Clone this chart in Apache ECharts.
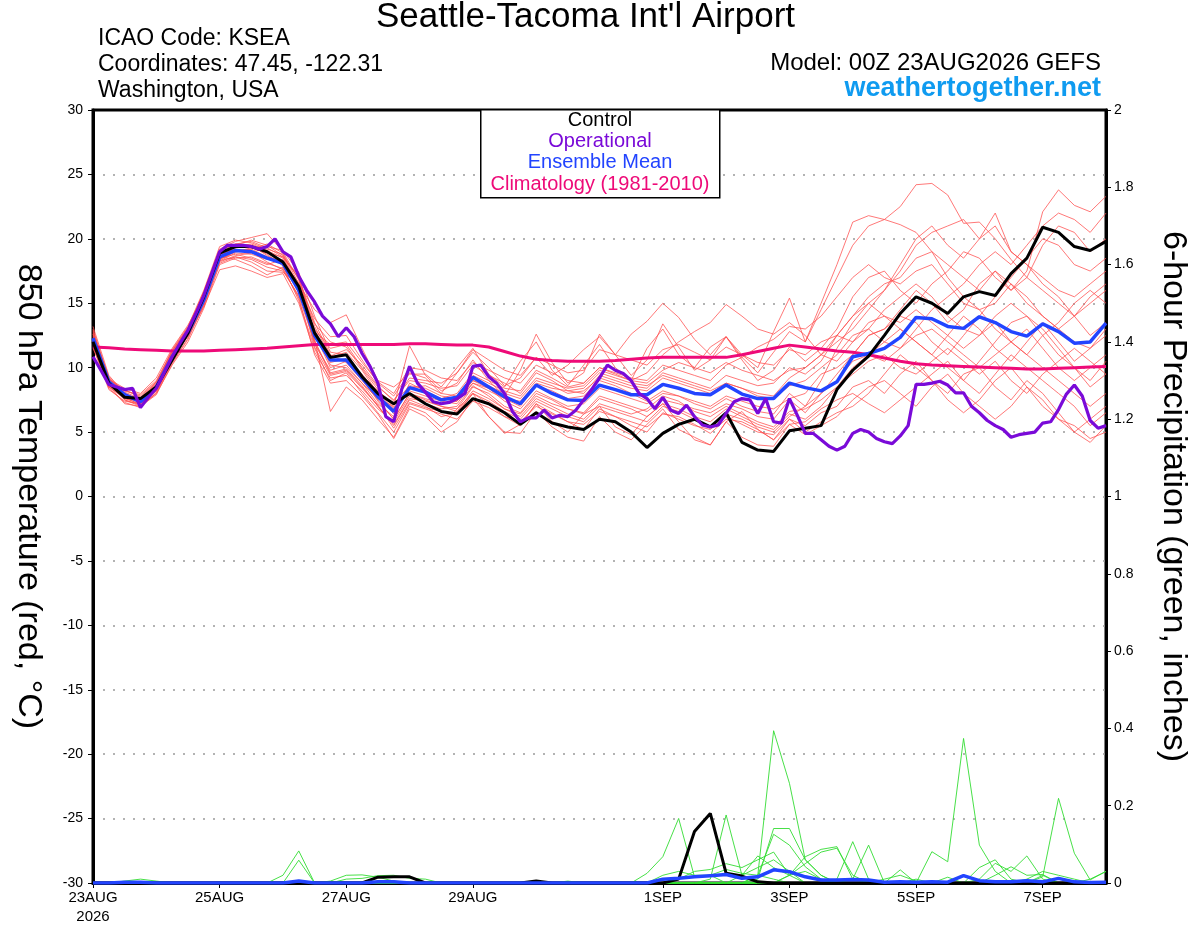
<!DOCTYPE html>
<html><head><meta charset="utf-8">
<script src="https://cdn.jsdelivr.net/npm/echarts@6/dist/echarts.min.js"></script>
<style>html,body{margin:0;padding:0;background:#fff}#c{width:1200px;height:927px}</style>
</head><body><div id="c"></div>
<script>
// ---------- DATA (6-hourly unless noted) ----------
const stepHours = 6;          // ensemble / control / mean / climatology
const opStepHours = 3;        // operational run is 3-hourly
const xTickHours = [0, 48, 96, 144, 216, 264, 312, 360];
const xTickLabels = ['23AUG\n2026', '25AUG', '27AUG', '29AUG', '1SEP', '3SEP', '5SEP', '7SEP'];

const control = [12.0,8.8,7.7,7.6,8.5,10.6,12.7,15.5,18.9,19.4,19.4,19.0,18.2,16.3,12.7,10.8,11.0,9.3,8.0,7.2,8.0,7.2,6.6,6.4,7.6,7.2,6.5,5.6,6.5,5.7,5.4,5.2,6.0,5.8,5.0,3.8,4.9,5.6,6.0,5.4,6.5,4.2,3.6,3.5,5.1,5.3,5.5,8.3,9.8,10.9,12.5,14.2,15.5,15.0,14.2,15.5,15.9,15.6,17.3,18.5,20.9,20.5,19.4,19.1,19.8];

const ensMean = [12.3,8.9,7.9,7.35,8.5,10.85,12.7,15.25,18.6,19.1,19.0,18.5,18.1,16.0,12.5,10.6,10.6,9.2,7.75,6.6,8.45,8.1,7.5,7.7,9.25,8.5,7.75,7.2,8.65,8.0,7.5,7.45,8.65,8.3,7.9,7.9,8.7,8.4,8.0,7.9,8.65,7.95,7.6,7.6,8.8,8.45,8.2,8.9,10.85,11.1,11.5,12.35,13.9,13.8,13.2,13.05,13.95,13.5,12.8,12.45,13.4,12.8,11.9,12.0,13.45];

const climatology = [11.6,11.55,11.45,11.4,11.35,11.3,11.3,11.3,11.35,11.4,11.45,11.5,11.6,11.7,11.8,11.8,11.8,11.8,11.8,11.8,11.85,11.85,11.8,11.75,11.75,11.6,11.25,10.9,10.65,10.55,10.5,10.5,10.5,10.55,10.65,10.75,10.8,10.8,10.8,10.8,10.8,11.0,11.25,11.5,11.75,11.6,11.45,11.3,11.2,11.0,10.75,10.5,10.3,10.2,10.15,10.1,10.05,10.0,9.95,9.9,9.9,9.95,10.0,10.05,10.1];

const operational = [10.85,9.8,8.7,8.5,8.3,8.4,6.9,7.7,8.4,9.6,10.85,11.9,12.9,14.2,15.6,17.3,19.0,19.5,19.5,19.5,19.4,19.2,19.4,20.0,19.0,18.6,17.1,16.0,15.1,14.0,13.4,12.4,13.1,12.4,11.1,10.1,8.8,6.2,5.8,8.3,10.1,8.8,8.1,7.35,7.2,7.3,7.6,8.0,10.1,10.2,9.3,8.8,8.0,6.6,5.8,6.1,6.1,6.7,6.1,6.3,6.2,6.7,7.5,8.3,9.2,10.2,9.8,9.55,9.0,8.0,7.6,6.8,7.7,6.7,6.45,7.1,6.2,5.55,5.4,5.55,6.45,7.35,7.6,7.5,6.45,7.6,5.8,5.7,7.6,6.3,4.9,4.9,4.4,3.9,3.6,3.9,4.9,5.2,5.0,4.5,4.25,4.1,4.7,5.5,8.7,8.7,8.8,8.95,8.65,8.05,8.05,7.0,6.5,5.9,5.5,5.2,4.6,4.8,4.9,5.0,5.7,5.8,6.75,7.95,8.65,7.8,5.9,5.3,5.5];

const member01 = [13.0,9.2,7.5,7.0,8.0,10.5,12.8,15.5,19.0,19.6,19.8,19.3,18.6,17.0,13.5,11.0,10.4,9.0,7.5,6.0,8.0,7.5,7.0,6.8,8.5,8.0,7.0,6.5,8.0,7.5,6.8,6.5,7.8,7.4,7.0,6.6,7.5,7.2,6.8,6.5,7.2,6.8,6.2,6.0,7.5,6.5,8.0,9.5,11.0,12.5,13.0,14.5,16.0,15.0,13.5,14.5,16.5,17.5,16.0,17.0,19.5,21.0,20.5,19.0,20.0];
const member02 = [12.0,8.5,7.6,7.4,8.8,11.2,13.0,15.8,18.8,19.2,19.0,18.2,17.6,15.5,12.0,9.5,9.8,8.5,7.0,5.5,7.5,7.0,6.2,6.5,8.0,7.2,6.2,5.5,7.2,6.5,5.8,5.2,6.8,6.2,5.5,5.0,6.5,6.0,5.5,5.2,6.2,5.6,5.0,4.8,6.0,5.5,6.5,7.0,8.5,9.0,8.0,9.5,10.5,9.0,8.0,9.5,10.0,8.5,7.5,9.0,8.0,6.5,5.0,4.2,5.5];
const member03 = [11.5,8.7,8.2,7.8,8.9,11.0,12.4,14.8,18.1,18.6,18.2,17.5,17.4,16.5,14.5,13.5,14.1,11.5,9.0,8.5,9.5,9.5,8.5,10.0,11.5,9.5,8.5,10.5,12.0,9.8,8.6,10.2,11.8,10.0,9.0,11.5,13.0,11.0,10.0,11.6,12.4,10.8,9.6,11.2,12.8,12.0,14.5,17.0,19.5,21.0,21.5,22.5,24.2,24.3,23.4,21.2,21.3,20.0,18.4,17.0,16.0,15.0,14.0,15.5,16.5];
const member04 = [12.8,9.0,7.9,7.2,8.2,10.6,12.9,15.9,19.2,19.8,20.1,20.4,19.0,16.8,12.8,10.2,10.0,8.8,7.2,6.2,8.8,8.2,7.6,8.0,9.6,9.0,8.4,8.2,9.8,9.2,8.5,8.8,10.0,9.5,9.0,9.6,11.0,12.0,12.8,13.5,14.9,14.0,13.0,12.6,13.5,12.5,11.0,10.5,12.0,13.5,14.0,13.0,12.0,11.0,12.5,14.0,13.0,11.5,10.5,12.0,13.5,12.0,10.5,11.5,12.5];
const member05 = [12.2,8.6,7.2,7.0,7.9,10.3,12.2,14.9,18.3,18.9,18.8,18.4,18.3,15.8,12.2,6.6,8.5,7.5,6.0,4.6,7.0,6.5,5.4,6.8,8.0,6.2,5.0,4.9,6.6,5.4,4.6,4.3,6.2,5.0,4.4,5.6,6.8,5.2,4.6,4.0,5.8,4.6,4.0,3.9,5.6,4.8,5.5,6.2,7.5,8.5,9.0,8.0,7.0,8.5,9.5,8.0,7.0,6.0,7.0,8.5,7.5,6.0,5.0,6.0,7.0];
const member06 = [11.8,9.1,8.4,8.0,9.2,11.5,13.3,15.6,18.6,18.4,17.9,17.2,17.8,16.0,13.0,11.5,11.8,10.0,8.5,7.5,9.0,8.8,8.4,8.6,10.2,9.4,8.8,8.0,9.6,9.0,8.2,8.0,9.4,9.0,8.6,8.4,9.6,9.2,8.8,8.4,9.4,9.0,8.6,8.8,10.0,9.5,10.5,12.5,14.0,15.5,16.5,17.0,18.5,19.0,17.0,15.5,14.5,15.0,16.5,15.0,14.0,13.0,14.0,15.0,16.0];
const member07 = [13.2,9.4,8.0,7.5,8.3,10.7,12.6,15.2,18.9,19.4,19.6,19.1,18.5,17.2,12.6,10.0,10.5,9.5,8.0,6.8,8.2,7.8,7.4,7.2,8.8,8.4,7.6,7.0,8.6,8.2,7.6,7.8,9.0,8.6,8.0,7.4,8.2,7.8,7.2,6.8,7.6,7.0,6.6,6.4,8.0,7.0,9.0,11.5,13.5,15.0,16.0,17.5,19.5,20.5,21.0,21.5,20.0,22.0,19.0,18.0,16.5,15.5,14.0,12.5,13.5];
const member08 = [12.5,8.8,7.7,7.1,8.6,11.1,12.9,15.4,18.4,19.0,19.2,19.6,18.9,16.5,11.8,9.8,10.2,8.8,7.6,7.0,11.7,9.4,8.2,8.8,10.6,9.0,7.8,9.8,12.6,10.4,8.8,9.6,12.6,11.0,9.4,10.6,13.4,11.6,9.8,10.6,12.4,10.6,9.0,9.8,11.6,10.5,11.5,13.0,15.5,17.0,17.5,16.0,15.0,16.5,17.5,19.0,18.5,17.0,16.0,17.5,22.1,23.8,22.6,22.1,23.3];
const member09 = [11.9,8.4,7.3,6.9,8.1,10.4,12.3,15.0,18.7,19.3,19.4,18.8,17.9,15.2,11.5,9.0,9.6,8.0,6.5,5.0,7.2,6.8,6.4,6.0,7.4,6.9,6.2,5.8,7.0,6.4,5.8,5.6,6.6,6.2,5.8,5.4,6.4,6.2,5.6,4.9,6.0,5.8,5.2,4.4,5.6,5.8,6.8,7.5,8.0,7.2,6.5,7.5,8.5,9.5,10.5,9.0,8.0,9.5,11.0,10.0,9.0,8.0,7.0,5.5,6.5];
const member10 = [12.6,9.3,8.1,7.6,8.7,11.3,13.1,15.7,18.5,18.8,18.5,18.0,18.4,16.4,13.8,12.4,12.5,10.6,8.8,7.8,9.6,9.2,8.0,9.6,11.2,10.0,8.6,9.2,10.8,9.4,10.2,11.4,12.4,11.0,12.6,13.6,15.0,13.9,12.2,11.0,12.4,11.0,10.0,12.8,15.4,12.0,15.0,18.0,21.3,21.8,21.5,21.1,20.5,19.0,18.0,17.0,16.0,17.5,16.5,15.5,14.0,13.0,12.0,11.5,13.0];
const member11 = [12.3,8.9,7.8,7.3,8.4,10.9,12.7,15.3,18.2,18.7,18.9,19.4,19.1,17.4,14.0,11.2,11.0,9.4,8.2,7.2,8.6,8.4,7.8,7.6,9.0,8.4,7.4,6.8,8.2,7.6,7.0,7.2,8.4,8.0,7.6,7.2,8.0,7.8,7.4,7.0,7.8,7.4,7.0,6.8,7.6,8.0,9.5,10.0,11.0,12.5,13.0,14.0,13.5,12.0,11.0,12.5,14.0,15.5,17.0,18.5,20.0,19.5,18.0,17.5,18.5];
const member12 = [11.6,8.3,7.4,7.2,8.5,10.8,12.5,14.7,17.6,17.9,17.5,17.0,17.3,15.0,11.2,9.2,9.4,8.2,6.8,5.8,7.8,7.2,6.8,7.0,8.6,7.8,6.8,6.2,7.6,7.0,6.4,6.0,7.2,6.8,6.4,6.8,7.8,7.4,6.6,6.2,7.0,6.4,5.8,5.4,6.6,6.8,7.5,8.5,9.5,10.5,11.0,10.0,9.5,10.5,11.5,10.5,9.5,10.5,9.0,8.0,9.5,10.5,11.5,10.5,9.5];
const member13 = [12.9,9.0,8.3,7.7,8.8,11.4,13.2,16.0,19.4,19.9,19.7,19.2,18.8,16.2,12.4,10.8,11.2,9.8,8.0,6.4,8.4,8.6,8.0,7.8,9.4,8.8,8.2,7.8,9.2,8.8,8.4,8.6,9.8,9.4,9.0,8.8,9.8,10.4,10.0,9.6,10.4,9.8,9.4,9.0,9.8,10.0,11.0,12.0,13.0,14.5,16.0,18.0,20.0,21.0,19.5,18.5,20.0,21.0,19.0,18.0,17.0,16.0,15.5,16.5,17.5];
const member14 = [12.1,8.7,7.5,7.1,8.0,10.2,12.0,14.6,18.0,18.5,18.6,18.1,17.7,15.4,11.0,8.8,9.0,7.8,6.4,4.5,6.8,6.2,5.0,5.8,7.6,6.2,4.9,5.6,7.2,5.8,5.0,6.4,7.0,5.4,4.8,6.2,7.2,5.8,4.4,4.0,5.8,6.6,5.2,4.4,6.0,5.0,5.8,6.5,7.0,8.0,9.5,11.0,10.0,9.0,7.5,6.5,7.5,9.0,10.0,8.5,7.0,6.0,5.5,4.5,5.0];
const member15 = [12.7,9.2,8.0,7.4,8.6,11.0,12.8,15.5,18.8,19.5,19.9,19.5,18.7,16.9,13.2,10.9,11.4,10.2,8.6,7.4,9.2,9.0,8.8,9.6,11.4,10.6,9.8,9.4,10.8,10.2,9.6,9.8,11.4,11.0,10.6,10.2,11.4,11.8,11.2,10.6,11.6,11.0,10.4,10.2,11.4,11.0,12.0,12.5,12.0,13.0,14.5,15.5,16.5,15.5,14.0,13.0,12.5,14.0,15.0,14.0,12.5,13.5,15.0,16.0,15.0];
const member16 = [11.7,8.6,7.9,7.6,8.9,11.2,13.0,15.1,18.3,18.6,18.4,17.8,17.5,15.6,12.8,11.8,12.0,10.4,8.9,8.0,10.0,9.8,9.2,9.0,10.4,9.8,9.2,8.8,10.2,9.6,9.0,8.8,10.0,9.6,9.2,9.0,10.2,9.8,9.4,9.0,10.2,10.8,11.6,12.2,13.2,13.0,14.0,15.5,17.0,18.0,17.0,16.5,17.5,18.0,16.5,15.0,14.5,13.0,12.0,11.0,12.5,11.0,10.0,9.0,10.5];
const member17 = [12.4,8.9,7.6,7.2,8.2,10.6,12.5,15.3,18.9,19.4,19.5,19.0,18.2,16.6,12.1,9.6,9.9,8.6,7.0,5.6,7.6,7.4,7.0,6.6,8.2,7.6,6.8,6.4,7.8,7.2,6.8,6.4,7.6,7.2,6.8,6.2,7.2,6.8,6.2,5.8,6.8,6.2,5.6,5.2,6.4,6.0,7.0,8.5,10.0,11.0,12.0,13.0,12.0,11.0,10.0,9.0,10.5,12.0,13.5,14.0,13.0,11.5,10.0,8.5,9.5];
const member18 = [12.0,8.5,7.7,7.4,8.5,10.9,12.6,15.0,18.4,19.0,19.3,18.9,18.6,16.1,13.4,12.0,11.6,9.9,8.3,6.9,8.5,8.0,7.6,7.4,8.8,8.2,7.6,7.4,8.8,8.4,8.2,8.4,9.6,9.2,8.8,8.6,9.4,9.0,8.6,8.2,8.8,8.4,7.8,7.6,8.6,9.0,10.0,11.0,12.5,13.0,12.0,11.5,13.0,14.5,15.5,16.5,18.0,19.0,18.0,19.5,21.0,22.0,21.5,20.5,22.0];
const member19 = [12.6,9.1,8.2,7.9,9.0,11.3,13.1,15.9,19.1,19.6,19.5,18.7,18.0,15.9,12.9,10.4,10.7,9.2,7.4,6.0,8.0,7.6,7.2,7.4,9.0,8.6,8.0,7.6,9.0,8.6,8.0,8.2,9.2,8.8,8.4,8.2,9.2,8.8,8.4,8.0,8.8,8.4,8.0,7.8,9.2,10.0,11.0,12.5,14.0,15.0,14.0,13.5,14.5,13.5,12.5,11.5,12.5,13.5,12.0,11.0,10.0,9.0,8.0,7.0,8.0];
const member20 = [11.9,8.8,7.8,7.3,8.3,10.7,12.6,15.2,18.6,19.1,19.2,18.6,18.3,16.3,11.6,9.4,9.7,8.4,7.1,5.3,7.3,6.9,6.6,6.4,8.0,7.4,6.6,6.0,7.4,6.8,6.2,5.8,7.0,6.6,6.2,5.8,7.0,6.6,6.0,5.4,6.4,6.0,5.4,5.0,6.2,7.0,8.0,9.0,10.5,11.0,10.5,11.5,12.5,13.0,12.0,11.0,10.0,11.0,12.0,13.0,11.5,10.0,9.0,10.0,11.0];

// 6-hour precipitation (inches)
const precipControl = [0,0,0,0,0,0,0,0,0,0,0,0,0, 0,0,0,0,0,0.015,0.016,0.016,0,0,0,0,0, 0,0,0.005,0,0,0,0,0,0,0,0,0.01,0.133, 0.18,0.025,0.018,0.003,0,0,0,0,0,0,0,0,0, 0,0,0,0,0,0,0,0,0,0,0,0,0];
const precipMean = [0,0,0.002,0.002,0,0,0,0,0,0,0,0,0, 0.005,0,0,0,0,0.003,0.003,0,0,0,0,0,0, 0,0,0,0,0,0,0,0,0,0,0.01,0.012,0.016, 0.019,0.022,0.012,0.016,0.034,0.029,0.016,0.008,0.008,0.009,0.008,0.002,0.003, 0.002,0.003,0.002,0.019,0.006,0.003,0.003,0.006,0.003,0.012,0.003,0.001,0.002];
const precip01 = [0,0,0,0,0,0,0,0,0,0,0,0,0.02, 0.083,0,0,0,0,0,0,0,0,0,0,0,0, 0,0,0,0,0,0,0,0,0,0,0,0,0, 0,0,0,0.02,0.394,0.258,0.06,0.02,0,0,0,0,0, 0,0,0,0,0,0,0,0,0,0,0,0,0];
const precip02 = [0,0,0,0,0,0,0,0,0,0,0,0,0, 0.059,0,0,0,0,0,0,0,0,0,0,0,0, 0,0,0,0,0,0,0,0,0,0,0,0,0, 0,0,0,0.01,0.141,0.141,0.06,0.02,0,0,0,0,0, 0,0,0,0,0,0,0,0,0,0,0,0,0];
const precip03 = [0,0,0,0,0,0,0,0,0,0,0,0,0, 0,0,0,0,0,0,0,0,0,0,0,0,0, 0,0,0,0,0,0,0,0,0,0.025,0.068,0.167,0.016, 0.02,0,0,0,0,0,0,0,0,0,0,0,0, 0,0,0,0,0,0,0,0,0,0,0,0,0];
const precip04 = [0,0,0,0,0,0,0,0,0,0,0,0,0, 0,0,0,0,0,0,0,0,0,0,0,0,0, 0,0,0,0,0,0,0,0,0,0,0,0,0, 0.01,0.176,0.02,0.04,0.06,0.03,0,0,0,0,0,0,0, 0,0,0,0,0,0,0,0,0,0,0,0,0];
const precip05 = [0,0,0,0,0,0,0,0,0,0,0,0,0, 0,0,0,0,0,0,0,0,0,0,0,0,0, 0,0,0,0,0,0,0,0,0,0,0,0,0, 0,0,0,0.02,0.126,0.098,0.042,0.01,0,0,0,0,0, 0,0,0,0,0,0,0,0,0,0,0,0,0];
const precip06 = [0,0,0,0,0,0,0,0,0,0,0,0,0, 0,0,0,0,0,0,0,0,0,0,0,0,0, 0,0,0,0,0,0,0,0,0,0,0,0,0, 0,0,0,0,0,0.02,0.068,0.087,0.094,0.01,0,0,0, 0,0,0,0,0,0,0,0,0,0,0,0,0];
const precip07 = [0,0,0,0,0,0,0,0,0,0,0,0,0, 0,0,0,0,0,0,0,0,0,0,0,0,0, 0,0,0,0,0,0,0,0,0,0,0,0,0, 0,0,0,0,0,0,0,0,0.01,0.107,0.01,0,0, 0,0,0,0,0,0,0,0,0,0,0,0,0];
const precip08 = [0,0,0,0,0,0,0,0,0,0,0,0,0, 0,0,0,0,0,0,0,0,0,0,0,0,0, 0,0,0,0,0,0,0,0,0,0,0,0,0, 0,0,0,0,0,0,0,0,0,0.01,0.098,0,0, 0,0,0,0,0,0,0,0,0,0,0,0,0];
const precip09 = [0,0,0,0,0,0,0,0,0,0,0,0,0, 0,0,0,0,0,0,0,0,0,0,0,0,0, 0,0,0,0,0,0,0,0,0,0,0,0,0, 0,0,0,0,0,0,0,0,0,0,0,0,0.034, 0,0.081,0.055,0.374,0.098,0.03,0,0,0,0,0,0,0];
const precip10 = [0,0,0,0,0,0,0,0,0,0,0,0,0, 0,0,0,0,0,0,0,0,0,0,0,0,0, 0,0,0,0,0,0,0,0,0,0,0,0,0, 0,0,0,0,0,0,0,0,0,0,0,0,0, 0,0,0,0,0,0,0,0,0.016,0.219,0.077,0.008,0.03];
const precip11 = [0,0,0,0,0,0,0,0,0,0,0,0,0, 0,0,0,0,0,0,0,0,0,0,0,0,0, 0,0,0,0,0,0,0,0,0,0,0,0,0, 0,0,0,0,0,0,0,0,0,0,0,0,0, 0,0,0,0,0.01,0.051,0.03,0.07,0.01,0,0,0,0];
const precip12 = [0,0,0,0,0,0,0,0,0,0,0,0,0, 0,0,0,0,0,0,0,0,0,0,0,0,0, 0,0,0,0,0,0,0,0,0,0,0,0,0, 0,0,0,0,0,0,0,0,0,0,0,0,0, 0,0,0,0,0,0.02,0.042,0.02,0.022,0,0,0,0];
const precip13 = [0,0,0,0,0,0,0,0,0,0,0,0,0, 0,0,0,0,0,0,0,0,0,0,0,0,0, 0,0,0,0,0,0,0,0,0,0,0,0.01,0.03, 0.035,0.05,0.04,0.06,0.08,0.02,0,0,0,0,0,0,0, 0,0,0,0,0,0,0,0,0,0,0,0,0];
const precip14 = [0,0,0,0,0,0,0,0,0,0,0,0,0, 0,0,0,0,0,0,0,0,0,0,0,0,0, 0,0,0,0,0,0,0,0,0,0,0,0,0, 0,0,0.02,0.07,0.04,0.02,0.05,0.08,0.09,0.02,0,0,0, 0,0,0,0,0,0,0,0,0,0,0,0,0];
const precip15 = [0,0,0.005,0.01,0.005,0,0,0,0,0,0,0,0, 0,0,0.005,0.02,0.021,0.015,0.005,0,0,0,0,0,0, 0,0,0,0,0,0,0,0,0,0,0,0,0, 0,0,0,0,0,0,0,0,0,0,0,0,0, 0,0,0,0,0,0,0,0,0,0,0,0,0];
const precip16 = [0,0,0,0,0,0,0,0,0,0,0,0,0, 0,0,0,0.01,0.012,0.019,0.02,0.012,0.01,0,0,0,0, 0,0,0,0,0,0,0,0,0,0,0,0,0, 0,0,0,0,0,0,0,0,0,0,0,0,0, 0,0,0,0,0,0,0,0,0,0,0,0,0];
const precip17 = [0,0,0,0,0,0,0,0,0,0,0,0,0, 0,0,0,0,0,0,0,0,0,0,0,0,0, 0,0,0,0,0,0,0,0,0,0,0.02,0.03,0.02, 0.02,0.035,0.025,0.02,0.01,0,0,0,0,0,0,0,0, 0,0,0,0,0,0,0,0,0,0,0,0,0];
const precip18 = [0,0,0,0,0,0,0,0,0,0,0,0,0, 0,0,0,0,0,0,0,0,0,0,0,0,0, 0,0,0,0,0,0,0,0,0,0,0,0,0, 0,0,0,0,0,0.02,0.03,0.01,0,0,0,0,0, 0.01,0,0.015,0,0.04,0.06,0.01,0,0.02,0,0,0,0];
const precip19 = [0,0,0,0,0,0,0,0,0,0,0,0,0, 0,0,0,0,0,0,0,0,0,0,0,0,0, 0,0,0.005,0,0,0,0,0,0,0,0,0,0, 0,0,0,0,0,0,0,0,0,0,0,0,0, 0,0,0,0,0,0,0,0.01,0.03,0.02,0.01,0,0];
const precip20 = [0,0,0,0,0,0,0,0,0,0,0,0,0, 0,0,0,0,0,0,0,0,0,0,0,0,0, 0,0,0,0,0.005,0,0,0,0,0,0,0,0, 0,0,0,0,0,0,0,0,0,0,0,0.01,0.02, 0.005,0,0,0,0,0,0,0,0,0,0,0.01,0.03];

const tempMembers = [member01,member02,member03,member04,member05,member06,member07,member08,member09,member10,member11,member12,member13,member14,member15,member16,member17,member18,member19,member20];
const precipMembers = [precip01,precip02,precip03,precip04,precip05,precip06,precip07,precip08,precip09,precip10,precip11,precip12,precip13,precip14,precip15,precip16,precip17,precip18,precip19,precip20];

// ---------- CHART ----------
const FONT = 'Liberation Sans, Arial, sans-serif';
const toPairs = (arr, step) => arr.map((v, i) => [i * step, v]);
const series = [];
tempMembers.forEach((m, k) => series.push({
  name: 'member' + (k + 1), type: 'line', data: toPairs(m, stepHours), showSymbol: false, silent: true,
  lineStyle: { color: '#ff4d4d', width: 0.9, opacity: 0.85 }, z: 2
}));
precipMembers.forEach((m, k) => series.push({
  name: 'precip' + (k + 1), type: 'line', yAxisIndex: 1, data: toPairs(m, stepHours), showSymbol: false, silent: true,
  lineStyle: { color: '#33dd33', width: 0.9 }, z: 2
}));
series.push({ name: 'Precip Control', type: 'line', yAxisIndex: 1, data: toPairs(precipControl, stepHours), showSymbol: false,
  lineStyle: { color: '#000', width: 3 }, z: 3 });
series.push({ name: 'Precip Mean', type: 'line', yAxisIndex: 1, data: toPairs(precipMean, stepHours), showSymbol: false,
  lineStyle: { color: '#2244ff', width: 3.5 }, z: 3 });
series.push({ name: 'Climatology (1981-2010)', type: 'line', data: toPairs(climatology, stepHours), showSymbol: false,
  lineStyle: { color: '#ee0a78', width: 3 }, z: 4 });
series.push({ name: 'Ensemble Mean', type: 'line', data: toPairs(ensMean, stepHours), showSymbol: false,
  lineStyle: { color: '#2244ff', width: 3.5 }, z: 5 });
series.push({ name: 'Control', type: 'line', data: toPairs(control, stepHours), showSymbol: false,
  lineStyle: { color: '#000000', width: 3 }, z: 6 });
series.push({ name: 'Operational', type: 'line', data: toPairs(operational, opStepHours), showSymbol: false,
  lineStyle: { color: '#7a0ad8', width: 3.2 }, z: 7 });

const txt = (x, y, s) => ({ type: 'text', left: x, top: y, z: 100,
  style: { text: s, fill: '#000', font: '23px ' + FONT } });

const chart = echarts.init(document.getElementById('c'), null, { renderer: 'canvas' });
chart.setOption({
  animation: false,
  backgroundColor: '#fff',
  textStyle: { fontFamily: FONT },
  grid: { left: 93, right: 94, top: 110, bottom: 44, show: true, borderColor: '#000', borderWidth: 3,
    containLabel: false, outerBoundsMode: 'none' },
  xAxis: {
    type: 'value', min: 0, max: 384,
    axisLine: { show: true, onZero: false, lineStyle: { color: '#000', width: 3 } },
    axisTick: { show: true, customValues: xTickHours, length: 5, lineStyle: { color: '#000', width: 1 } },
    axisLabel: { customValues: xTickHours, color: '#000', fontSize: 15, fontFamily: FONT, margin: 5, lineHeight: 19,
      formatter: v => { const k = xTickHours.indexOf(v); return k >= 0 ? xTickLabels[k] : ''; } },
    splitLine: { show: false }
  },
  yAxis: [{
    type: 'value', min: -30, max: 30, interval: 5, position: 'left',
    name: '850 hPa Temperature (red, °C)', nameLocation: 'middle', nameGap: 48, nameRotate: -90,
    nameTextStyle: { fontSize: 34, color: '#000', fontFamily: FONT },
    axisLine: { show: true, lineStyle: { color: '#000', width: 3 } },
    axisTick: { show: true, length: 5, lineStyle: { color: '#000' } },
    axisLabel: { color: '#000', fontSize: 14, fontFamily: FONT, margin: 10 },
    splitLine: { show: true, showMinLine: false, showMaxLine: false, lineStyle: { color: '#9a9a9a', width: 1.5, type: [2, 8] } }
  }, {
    type: 'value', min: 0, max: 2, interval: 0.2, position: 'right',
    name: '6-hour Precipitation (green, inches)', nameLocation: 'middle', nameGap: 50, nameRotate: -90,
    nameTextStyle: { fontSize: 34, color: '#000', fontFamily: FONT },
    axisLine: { show: true, lineStyle: { color: '#000', width: 3 } },
    axisTick: { show: true, length: 5, lineStyle: { color: '#000' } },
    axisLabel: { color: '#000', fontSize: 14, fontFamily: FONT, margin: 8 },
    splitLine: { show: false }
  }],
  graphic: [
    { type: 'text', left: 376, top: 0, z: 100, style: { text: "Seattle-Tacoma Int'l Airport", fill: '#000', font: '35px ' + FONT } },
    txt(98, 27, 'ICAO Code: KSEA'),
    txt(98, 53, 'Coordinates: 47.45, -122.31'),
    txt(98, 79, 'Washington, USA'),
    { type: 'text', right: 99, top: 51, z: 100, style: { text: 'Model: 00Z 23AUG2026 GEFS', fill: '#000', font: '24px ' + FONT } },
    { type: 'text', right: 99, top: 75, z: 100, style: { text: 'weathertogether.net', fill: '#0f9bf0', font: 'bold 27px ' + FONT } },
    { type: 'rect', left: 480, top: 109, z: 90, shape: { width: 239, height: 88 }, style: { fill: '#fff', stroke: '#000', lineWidth: 1.5 } },
    { type: 'text', left: 'center', top: 110, z: 100, style: { text: 'Control', fill: '#000', font: '20px ' + FONT } },
    { type: 'text', left: 'center', top: 131, z: 100, style: { text: 'Operational', fill: '#7a0ad8', font: '20px ' + FONT } },
    { type: 'text', left: 'center', top: 152, z: 100, style: { text: 'Ensemble Mean', fill: '#2244ff', font: '20px ' + FONT } },
    { type: 'text', left: 'center', top: 174, z: 100, style: { text: 'Climatology (1981-2010)', fill: '#ee0a78', font: '20px ' + FONT } }
  ],
  series: series
});
</script></body></html>
